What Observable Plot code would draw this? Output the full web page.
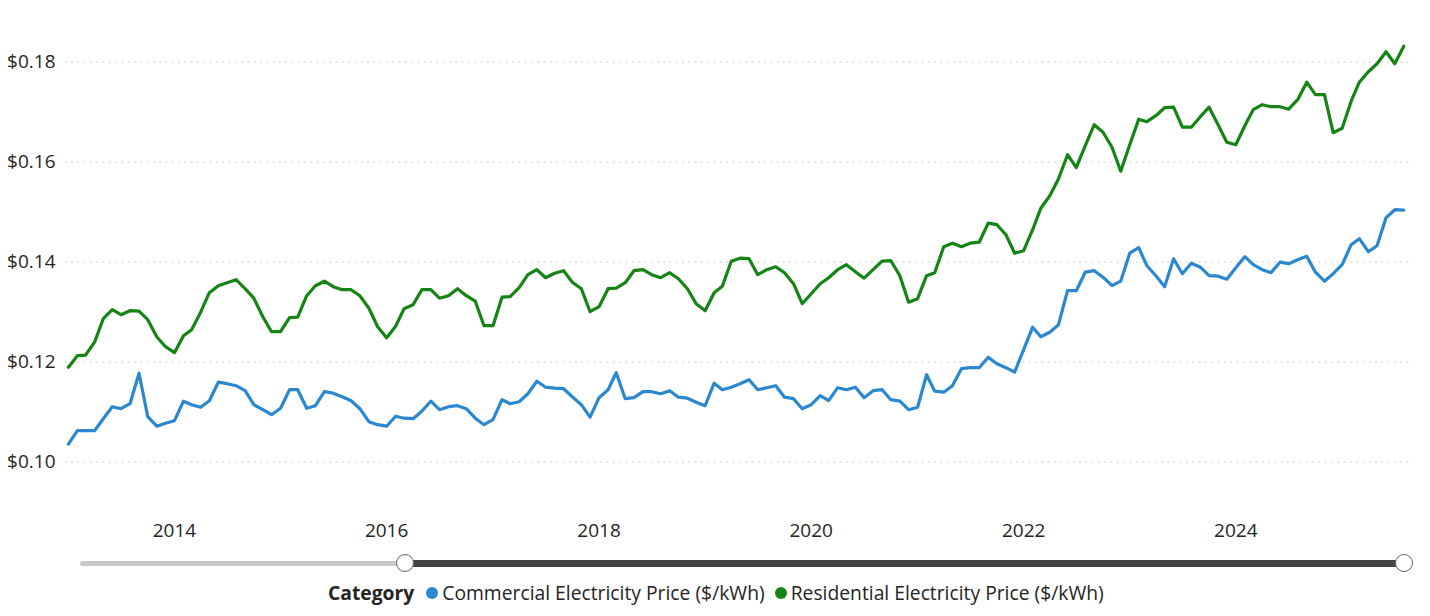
<!DOCTYPE html>
<html>
<head>
<meta charset="utf-8">
<script src="https://cdn.jsdelivr.net/npm/d3@7"></script>
<script src="https://cdn.jsdelivr.net/npm/@observablehq/plot@0.6"></script>
<style>
  html, body { margin: 0; padding: 0; background: #fff; }
  #wrap { position: relative; width: 1430px; height: 616px; overflow: hidden; font-family: "Segoe UI", "Open Sans", "Noto Sans", sans-serif; color: #252423; }
  #chart { position: absolute; left: 0; top: 0; }
  .track { position: absolute; border-radius: 3px; }
  .knob { position: absolute; width: 18px; height: 18px; border-radius: 50%; background: #fff; border: 1.6px solid #666; box-sizing: border-box; }
  #legend { position: absolute; left: 328px; top: 579px; display: flex; align-items: center; font-size: 19.3px; white-space: nowrap; }
  #legend .title { font-weight: bold; margin-right: 12px; }
  #legend .dot { width: 12px; height: 12px; border-radius: 50%; display: inline-block; margin-right: 4px; }
  #legend .item { display: flex; align-items: center; margin-right: 10px; }
</style>
</head>
<body>
<div id="wrap">
  <div id="chart"></div>
  <div class="track" style="left:80px; top:561px; width:330px; height:5px; background:#c8c8c8;"></div>
  <div class="track" style="left:405px; top:560px; width:999px; height:7px; background:#444;"></div>
  <div class="knob" style="left:396px; top:554px;"></div>
  <div class="knob" style="left:1395px; top:554px;"></div>
  <div id="legend"></div>
</div>
<script>
// ---- data (monthly, Jan 2013 .. Aug 2025) ----
const startMonth = [2013, 0];
const seriesNames = ["Commercial Electricity Price ($/kWh)", "Residential Electricity Price ($/kWh)"];
const seriesColors = ["#2b88d0", "#158415"];
const yTickValues = [0.10, 0.12, 0.14, 0.16, 0.18];
const xTickYears = [2014, 2016, 2018, 2020, 2022, 2024];

const commercial = [
  0.1036, 0.1063, 0.1063, 0.1063, 0.1087, 0.1111, 0.1107, 0.1117, 0.1178, 0.1091, 0.1072, 0.1078,
  0.1083, 0.1122, 0.1115, 0.1110, 0.1123, 0.1160, 0.1157, 0.1153, 0.1143, 0.1115, 0.1105, 0.1095,
  0.1108, 0.1145, 0.1145, 0.1108, 0.1113, 0.1141, 0.1138, 0.1131, 0.1123, 0.1107, 0.1081, 0.1075,
  0.1072, 0.1092, 0.1088, 0.1087, 0.1102, 0.1122, 0.1105, 0.1111, 0.1113, 0.1107, 0.1088, 0.1075,
  0.1085, 0.1125, 0.1117, 0.1121, 0.1137, 0.1162, 0.1150, 0.1148, 0.1147, 0.1131, 0.1115, 0.1090,
  0.1129, 0.1145, 0.1179, 0.1127, 0.1129, 0.1141, 0.1141, 0.1137, 0.1143, 0.1130, 0.1128, 0.1120,
  0.1113, 0.1158, 0.1145, 0.1150, 0.1157, 0.1165, 0.1145, 0.1149, 0.1153, 0.1130, 0.1127, 0.1107,
  0.1115, 0.1133, 0.1123, 0.1149, 0.1145, 0.1150, 0.1129, 0.1143, 0.1145, 0.1125, 0.1122, 0.1105,
  0.1110, 0.1175, 0.1142, 0.1140, 0.1153, 0.1187, 0.1189, 0.1189, 0.1210, 0.1197, 0.1189, 0.1180,
  0.1225, 0.1270, 0.1251, 0.1260, 0.1275, 0.1343, 0.1343, 0.1380, 0.1383, 0.1370, 0.1353, 0.1362,
  0.1418, 0.1429, 0.1393, 0.1373, 0.1351, 0.1407, 0.1377, 0.1398, 0.1390, 0.1373, 0.1372, 0.1366,
  0.1389, 0.1411, 0.1395, 0.1385, 0.1379, 0.1400, 0.1397, 0.1405, 0.1412, 0.1380, 0.1362, 0.1377,
  0.1395, 0.1435, 0.1447, 0.1421, 0.1433, 0.1489, 0.1505, 0.1504
];

const residential = [
  0.1190, 0.1213, 0.1214, 0.1240, 0.1287, 0.1305, 0.1295, 0.1303, 0.1302, 0.1285, 0.1251, 0.1231,
  0.1219, 0.1253, 0.1265, 0.1300, 0.1339, 0.1353, 0.1359, 0.1365, 0.1347, 0.1328, 0.1291, 0.1261,
  0.1261, 0.1289, 0.1290, 0.1333, 0.1353, 0.1362, 0.1351, 0.1345, 0.1345, 0.1333, 0.1308, 0.1271,
  0.1249, 0.1272, 0.1307, 0.1315, 0.1345, 0.1345, 0.1328, 0.1333, 0.1347, 0.1333, 0.1322, 0.1273,
  0.1273, 0.1330, 0.1331, 0.1349, 0.1375, 0.1385, 0.1369, 0.1378, 0.1383, 0.1360, 0.1347, 0.1301,
  0.1311, 0.1347, 0.1348, 0.1359, 0.1383, 0.1385, 0.1375, 0.1369, 0.1379, 0.1367, 0.1347, 0.1317,
  0.1303, 0.1339, 0.1352, 0.1402, 0.1408, 0.1407, 0.1375, 0.1385, 0.1391, 0.1379, 0.1357, 0.1317,
  0.1337, 0.1357, 0.1369, 0.1385, 0.1395, 0.1381, 0.1368, 0.1385, 0.1402, 0.1403, 0.1373, 0.1320,
  0.1327, 0.1373, 0.1379, 0.1431, 0.1438, 0.1431, 0.1438, 0.1440, 0.1478, 0.1475, 0.1455, 0.1418,
  0.1423, 0.1465, 0.1508, 0.1533, 0.1567, 0.1615, 0.1589, 0.1633, 0.1675, 0.1660, 0.1630, 0.1582,
  0.1635, 0.1686, 0.1681, 0.1693, 0.1709, 0.1710, 0.1670, 0.1670, 0.1691, 0.1710, 0.1675, 0.1640,
  0.1635, 0.1673, 0.1705, 0.1715, 0.1711, 0.1711, 0.1706, 0.1725, 0.1760, 0.1735, 0.1735, 0.1659,
  0.1668, 0.1722, 0.1760, 0.1781, 0.1797, 0.1821, 0.1797, 0.1832
];

// ---- table for Plot ----
const monthDate = i => new Date(Date.UTC(startMonth[0], startMonth[1] + i, 1));
const rows = [];
[commercial, residential].forEach((vals, s) => {
  vals.forEach((v, i) => rows.push({date: monthDate(i), value: v, series: seriesNames[s]}));
});
const xTicks = xTickYears.map(y => new Date(Date.UTC(y, 0, 1)));

const chart = Plot.plot({
  width: 1430,
  height: 545,
  marginLeft: 65,
  marginRight: 18,
  marginTop: 11.7,
  marginBottom: 33.3,
  style: {fontFamily: '"Segoe UI", "Open Sans", "Noto Sans", sans-serif', fontSize: "19px", color: "#252423", background: "transparent", overflow: "visible"},
  x: {type: "utc", domain: [new Date(Date.UTC(2012, 11, 22)), new Date(Date.UTC(2025, 7, 31))], ticks: xTicks, tickFormat: d3.utcFormat("%Y"), tickSize: 0, tickPadding: 11, label: null},
  y: {domain: [0.09, 0.19], ticks: yTickValues, tickFormat: d3.format("$.2f"), tickSize: 0, tickPadding: 10, label: null},
  color: {domain: seriesNames, range: seriesColors},
  marks: [
    Plot.ruleY(yTickValues, {stroke: "#c8c8c8", strokeWidth: 1.3, strokeDasharray: "1.3,5"}),
    Plot.lineY(rows, {x: "date", y: "value", z: "series", stroke: "series", strokeWidth: 3.2, strokeLinejoin: "round", strokeLinecap: "round"})
  ]
});
document.getElementById("chart").appendChild(chart);

// ---- legend ----
const legend = document.getElementById("legend");
const t = document.createElement("span");
t.className = "title";
t.textContent = "Category";
legend.appendChild(t);
seriesNames.forEach((name, i) => {
  const item = document.createElement("span");
  item.className = "item";
  const dot = document.createElement("span");
  dot.className = "dot";
  dot.style.background = seriesColors[i];
  const label = document.createElement("span");
  label.textContent = name;
  item.appendChild(dot);
  item.appendChild(label);
  legend.appendChild(item);
});
</script>
</body>
</html>
